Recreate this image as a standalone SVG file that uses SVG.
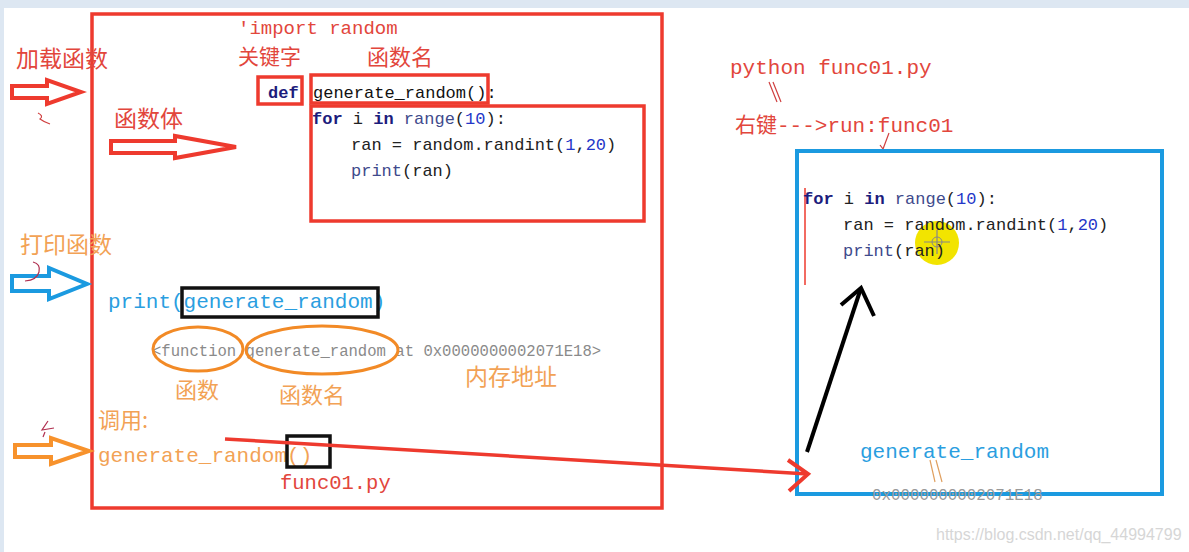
<svg xmlns="http://www.w3.org/2000/svg" width="1189" height="552" viewBox="0 0 1189 552">
<style>
.code{font-family:"Liberation Mono","DejaVu Sans Mono",monospace}
.cjk{font-family:"Noto Sans CJK SC",sans-serif}
.red{fill:#e2463c}
.org{fill:#f2a255}
.blu{fill:#2a9ee0}
.nav{fill:#1c1c7c}
.num{fill:#2436c8}
.kw{font-weight:bold;fill:#1c1c7c}
.fn{fill:#404a8c}
.box{fill:none;stroke:#ee3a2e;stroke-width:3.5}
.hollow{fill:none;stroke-width:4;stroke-linejoin:miter}
.thin{fill:none;stroke-width:1.2}
</style>
<rect width="1189" height="552" fill="#ffffff"/>
<rect x="0" y="0" width="1189" height="8" fill="#dde7f2"/>
<rect x="0" y="0" width="4" height="552" fill="#dde7f2"/>

<g id="main-frame">
<rect class="box" x="92" y="14" width="570" height="494"/>
</g>

<g id="import-label">
<text class="code red" x="238" y="34" font-size="19">'import random</text>
</g>
<g id="keyword-label"><text class="cjk red" x="238" y="64" font-size="21">关键字</text></g>
<g id="funcname-label"><text class="cjk red" x="367" y="65" font-size="22">函数名</text></g>

<g id="def-box">
<rect class="box" x="258" y="77" width="44" height="27"/>
<text class="code kw" x="268" y="98" font-size="17">def</text>
</g>
<g id="name-box">
<rect class="box" x="311" y="75" width="177" height="28"/>
<text class="code" x="313" y="98" font-size="17" fill="#111">generate_random():</text>
</g>
<g id="body-box">
<rect class="box" x="311" y="106" width="333" height="115"/>
<text class="code" x="312" y="124" font-size="17"><tspan class="kw">for</tspan><tspan fill="#222"> i </tspan><tspan class="kw">in</tspan><tspan class="fn"> range</tspan><tspan fill="#222">(</tspan><tspan class="num">10</tspan><tspan fill="#222">):</tspan></text>
<text class="code" x="351" y="150" font-size="17" fill="#222">ran = random.randint(<tspan class="num">1</tspan>,<tspan class="num">20</tspan>)</text>
<text class="code" x="351" y="176" font-size="17"><tspan class="fn">print</tspan><tspan fill="#222">(ran)</tspan></text>
</g>

<g id="load-label"><text class="cjk red" x="16" y="67" font-size="23">加载函数</text></g>
<g id="load-arrow">
<polygon class="hollow" stroke="#ee3a2e" points="12,86 47,86 47,80 81,92 47,104 47,98 12,98"/>
<path class="thin" stroke="#d04040" d="M38,113 q6,3 2,6 q4,3 10,5"/>
</g>
<g id="body-label"><text class="cjk red" x="114" y="127" font-size="23">函数体</text></g>
<g id="body-arrow">
<polygon class="hollow" stroke="#ee3a2e" points="111,141 175,141 175,136 236,147 175,158 175,153 111,153"/>
</g>

<g id="print-label"><text class="cjk org" x="20" y="253" font-size="23">打印函数</text></g>
<g id="print-arrow">
<polygon class="hollow" stroke="#1b9ae0" points="12,276 49,276 49,268 87,284 49,299 49,291 12,291"/>
<path class="thin" stroke="#b03050" d="M33,262 q8,2 6,10 q-2,8 -14,9"/>
</g>
<g id="print-call">
<text class="code blu" x="108" y="308" font-size="21">print(generate_random)</text>
<rect fill="none" stroke="#111" stroke-width="3.5" x="182" y="288" width="196" height="29"/>
</g>
<g id="print-output">
<text class="code" x="152" y="356" font-size="15.6" fill="#8a8a8a">&lt;function generate_random at 0x0000000002071E18&gt;</text>
<ellipse cx="198" cy="349" rx="45" ry="22" fill="none" stroke="#f28a26" stroke-width="3"/>
<ellipse cx="322" cy="350" rx="76" ry="24" fill="none" stroke="#f28a26" stroke-width="3"/>
</g>
<g id="func-label"><text class="cjk org" x="175" y="398" font-size="22">函数</text></g>
<g id="funcname2-label"><text class="cjk org" x="279" y="403" font-size="22">函数名</text></g>
<g id="address-label"><text class="cjk org" x="465" y="385" font-size="23">内存地址</text></g>

<g id="call-label"><text class="cjk org" x="98" y="428" font-size="22">调用:</text></g>
<g id="call-arrow">
<polygon class="hollow" stroke="#f7922c" points="15,445 51,445 51,438 89,451 51,464 51,457 15,457"/>
<path class="thin" stroke="#b03050" d="M48,421 l-6,9 l12,-2 M45,432 l-2,5"/>
</g>
<g id="call-code">
<text class="code org" x="98" y="462" font-size="21">generate_random()</text>
<rect fill="none" stroke="#111" stroke-width="3.5" x="287" y="436" width="43" height="31"/>
<text class="code red" x="280" y="489" font-size="20.5">func01.py</text>
</g>

<g id="run-labels">
<text class="code red" x="730" y="74" font-size="21">python func01.py</text>
<path class="thin" stroke="#d04040" d="M769,82 l8,20 M773,82 l8,20"/>
<text x="735" y="132" font-size="21" class="red"><tspan class="cjk">右键</tspan><tspan class="code">---&gt;run:func01</tspan></text>
<path class="thin" stroke="#d04040" d="M889,133 l-6,16 M880,145 l3,4"/>
</g>

<g id="output-box">
<rect fill="none" stroke="#1b9ae0" stroke-width="4" x="797" y="151" width="365" height="343"/>
<line x1="805" y1="188" x2="805" y2="285" stroke="#ee3a2e" stroke-width="1.5"/>
<circle cx="937" cy="243" r="22" fill="#f2e400"/>
<path class="thin" stroke="#888" d="M924,242 h26 M937,230 v24"/>
<circle cx="937" cy="242" r="5" fill="none" stroke="#888" stroke-width="1"/>
<text class="code" x="803" y="204" font-size="17"><tspan class="kw">for</tspan><tspan fill="#222"> i </tspan><tspan class="kw">in</tspan><tspan class="fn"> range</tspan><tspan fill="#222">(</tspan><tspan class="num">10</tspan><tspan fill="#222">):</tspan></text>
<text class="code" x="843" y="230" font-size="17" fill="#222">ran = random.randint(<tspan class="num">1</tspan>,<tspan class="num">20</tspan>)</text>
<text class="code" x="843" y="256" font-size="17"><tspan class="fn">print</tspan><tspan fill="#222">(ran)</tspan></text>
<text class="code blu" x="860" y="458" font-size="21">generate_random</text>
<path class="thin" stroke="#e0a060" d="M930,460 l5,22 M936,460 l6,22"/>
<text class="code" x="872" y="500" font-size="15.8" fill="#9a9a9a">0x0000000002071E18</text>
</g>

<g id="connectors">
<line x1="225" y1="439" x2="808" y2="474" stroke="#ee3a2e" stroke-width="3.5"/>
<path d="M788,460 L808,474 L789,491" fill="none" stroke="#ee3a2e" stroke-width="4" stroke-linejoin="miter"/>
<line x1="807" y1="452" x2="861" y2="288" stroke="#000" stroke-width="4"/>
<path d="M841,305 L861,288 L874,316" fill="none" stroke="#000" stroke-width="4"/>
</g>

<text x="936" y="540" font-family="Liberation Sans,Arial,sans-serif" font-size="16" fill="#d6d6d6">https://blog.csdn.net/qq_44994799</text>
</svg>
